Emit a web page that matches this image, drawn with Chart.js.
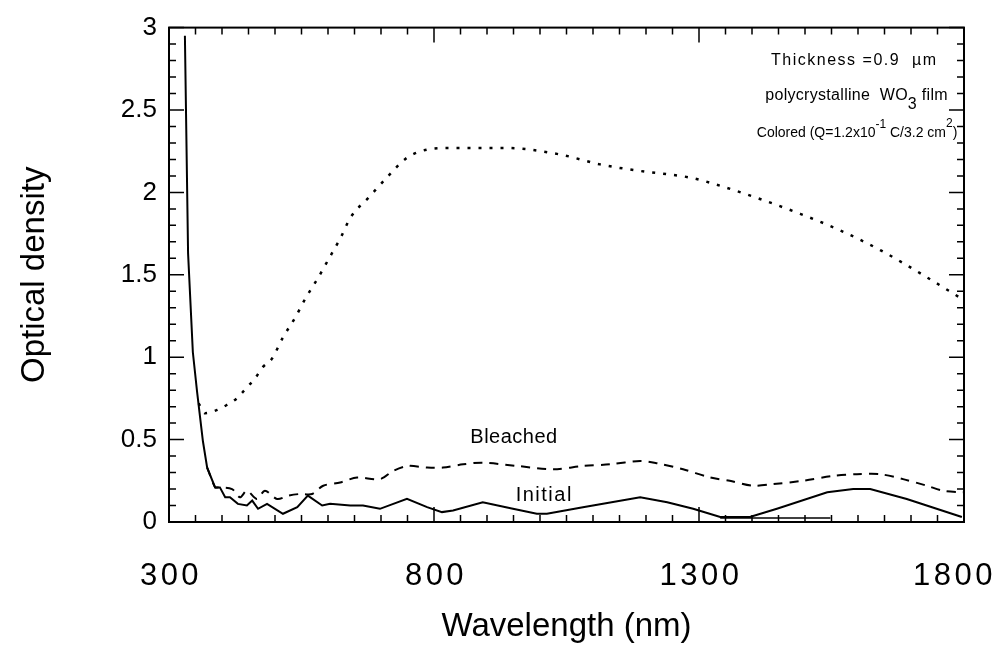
<!DOCTYPE html>
<html><head><meta charset="utf-8">
<script src="https://cdn.jsdelivr.net/npm/chart.js@4"></script>
<style>html,body{margin:0;padding:0;background:#fff;}#wrap{width:1003px;height:659px;}</style>
</head><body><div id="wrap"><canvas id="c" width="1003" height="659"></canvas></div>
<script>
// ---- data ----
const initialNm = [330, 336, 345, 353, 364, 372, 387, 396, 406, 415, 430, 447, 457, 468, 485, 515, 542, 562, 589, 604, 642, 666, 698, 749, 787, 815, 836, 892, 949, 994, 1013, 1081, 1189, 1240, 1289, 1340, 1396, 1447, 1542, 1591, 1623, 1692, 1796];
const initialOD = [2.95, 1.63, 1.03, 0.79, 0.49, 0.33, 0.21, 0.21, 0.15, 0.15, 0.11, 0.10, 0.13, 0.08, 0.11, 0.05, 0.09, 0.16, 0.10, 0.11, 0.10, 0.10, 0.08, 0.14, 0.09, 0.06, 0.07, 0.12, 0.08, 0.05, 0.05, 0.09, 0.15, 0.12, 0.08, 0.03, 0.03, 0.08, 0.18, 0.20, 0.20, 0.14, 0.03];
const initialTailNm = [1340, 1548];
const initialTailOD = [0.025, 0.025];
const bleachedNm = [372, 387, 392, 419, 434, 447, 466, 481, 504, 525, 547, 570, 591, 623, 655, 698, 723, 751, 787, 817, 855, 892, 957, 1025, 1081, 1132, 1189, 1221, 1270, 1321, 1358, 1402, 1440, 1496, 1553, 1598, 1642, 1685, 1730, 1760, 1798];
const bleachedOD = [0.33, 0.21, 0.21, 0.20, 0.15, 0.19, 0.14, 0.19, 0.14, 0.16, 0.17, 0.17, 0.22, 0.24, 0.27, 0.26, 0.31, 0.34, 0.33, 0.33, 0.35, 0.36, 0.34, 0.32, 0.34, 0.35, 0.37, 0.356, 0.32, 0.27, 0.25, 0.22, 0.23, 0.25, 0.28, 0.29, 0.29, 0.26, 0.22, 0.19, 0.18];
const coloredNm = [356, 368, 391, 409, 428, 445, 462, 477, 494, 515, 538, 558, 581, 602, 623, 643, 677, 711, 749, 787, 830, 864, 934, 1038, 1113, 1189, 1283, 1340, 1415, 1491, 1566, 1642, 1717, 1798];
const coloredOD = [0.72, 0.66, 0.68, 0.71, 0.75, 0.81, 0.87, 0.94, 0.99, 1.12, 1.24, 1.36, 1.48, 1.60, 1.72, 1.85, 1.97, 2.09, 2.21, 2.26, 2.27, 2.27, 2.27, 2.23, 2.17, 2.13, 2.09, 2.04, 1.96, 1.87, 1.77, 1.65, 1.51, 1.35];
const xTickLabels = [300, 800, 1300, 1800];
const yTickLabels = [0, 0.5, 1, 1.5, 2, 2.5, 3];

const FONT = '"Liberation Sans", Arial, sans-serif';
const pts = (xs, ys) => xs.map((v, i) => ({x: v, y: ys[i]}));

const decor = {
  id: 'decor',
  afterDraw(chart) {
    const {ctx, chartArea: a, scales: {x, y}} = chart;
    ctx.save();
    ctx.strokeStyle = '#000';
    ctx.lineWidth = 2;
    ctx.strokeRect(a.left, a.top, a.right - a.left, a.bottom - a.top);
    ctx.lineWidth = 1.5;
    ctx.beginPath();
    for (let v = 300; v <= 1800; v += 50) {
      const px = x.getPixelForValue(v);
      const len = (v - 300) % 500 === 0 ? 15 : 7;
      ctx.moveTo(px, a.bottom); ctx.lineTo(px, a.bottom - len);
      ctx.moveTo(px, a.top); ctx.lineTo(px, a.top + len);
    }
    for (let i = 0; i <= 30; i++) {
      const py = y.getPixelForValue(i / 10);
      const len = i % 5 === 0 ? 15 : 7;
      ctx.moveTo(a.left, py); ctx.lineTo(a.left + len, py);
      ctx.moveTo(a.right, py); ctx.lineTo(a.right - len, py);
    }
    ctx.stroke();

    ctx.fillStyle = '#000';
    ctx.textBaseline = 'middle';
    // x tick labels (letter-spaced like the reference)
    ctx.font = '31px ' + FONT;
    ctx.letterSpacing = '3.5px';
    ctx.textAlign = 'center';
    xTickLabels.forEach(v => {
      const t = String(v);
      const w = ctx.measureText(t).width;
      let cx = x.getPixelForValue(v) + 2;
      if (cx + w / 2 > 996) cx = 996 - w / 2;
      ctx.fillText(t, cx, a.bottom + 54);
    });

    // annotations
    ctx.textAlign = 'left';
    const runs = (list, nm, od, ls) => {
      let px = x.getPixelForValue(nm);
      const py = y.getPixelForValue(od);
      ctx.letterSpacing = ls + 'px';
      list.forEach(r => {
        ctx.font = r.s + 'px ' + FONT;
        ctx.fillText(r.t, px, py + (r.dy || 0));
        px += ctx.measureText(r.t).width;
      });
    };
    runs([{t: 'Thickness =0.9  \u00b5m', s: 16}], 1436, 2.80, 1.5);
    runs([{t: 'polycrystalline  WO', s: 16}, {t: '3', s: 16, dy: 9}, {t: ' film', s: 16}], 1425, 2.59, 0.3);
    runs([{t: 'Colored (Q=1.2x10', s: 14}, {t: '-1', s: 12, dy: -8}, {t: ' C/3.2 cm', s: 14}, {t: '2', s: 12, dy: -9}, {t: ')', s: 14}], 1409, 2.36, 0);

    ctx.textAlign = 'center';
    ctx.font = '20px ' + FONT;
    ctx.letterSpacing = '0.5px';
    ctx.fillText('Bleached', x.getPixelForValue(951), y.getPixelForValue(0.51));
    ctx.letterSpacing = '1.5px';
    ctx.fillText('Initial', x.getPixelForValue(1008), y.getPixelForValue(0.16));
    ctx.restore();
  }
};

new Chart(document.getElementById('c'), {
  type: 'line',
  data: {
    datasets: [
      {label: 'Colored', data: pts(coloredNm, coloredOD), borderColor: '#000', borderWidth: 2.5, borderDash: [3, 8], pointRadius: 0, cubicInterpolationMode: 'monotone', fill: false},
      {label: 'Bleached', data: pts(bleachedNm, bleachedOD), borderColor: '#000', borderWidth: 2, borderDash: [9, 7], pointRadius: 0, tension: 0.3, fill: false},
      {label: 'Initial', data: pts(initialNm, initialOD), borderColor: '#000', borderWidth: 2, pointRadius: 0, tension: 0, fill: false},
      {label: 'Initial tail', data: pts(initialTailNm, initialTailOD), borderColor: '#000', borderWidth: 1.5, pointRadius: 0, fill: false}
    ]
  },
  options: {
    responsive: false,
    animation: false,
    devicePixelRatio: 1,
    layout: {padding: {top: 22, right: 39, bottom: 0, left: 0}},
    plugins: {legend: {display: false}, tooltip: {enabled: false}},
    scales: {
      x: {
        type: 'linear', min: 300, max: 1800,
        grid: {display: false, drawTicks: false},
        border: {display: false},
        ticks: {display: false},
        title: {display: true, text: 'Wavelength (nm)', color: '#000', font: {family: FONT, size: 33}, padding: {top: 0, bottom: 12}},
        afterFit: s => { s.height = 137; }
      },
      y: {
        type: 'linear', min: 0, max: 3,
        grid: {display: false, drawTicks: false},
        border: {display: false},
        afterBuildTicks: s => { s.ticks = yTickLabels.map(v => ({value: v})); },
        ticks: {color: '#000', font: {family: FONT, size: 26}, padding: 12, callback: v => String(v)},
        title: {display: true, text: 'Optical density', color: '#000', font: {family: FONT, size: 33}, padding: {top: 15, bottom: 0}},
        afterFit: s => { s.width = 169; }
      }
    }
  },
  plugins: [decor]
});
</script></body></html>
